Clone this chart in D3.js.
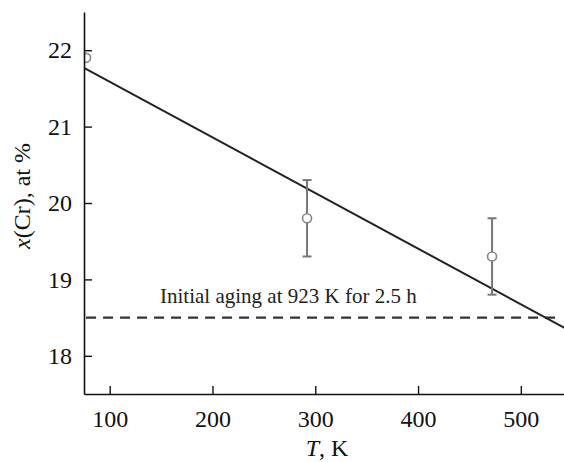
<!DOCTYPE html>
<html>
<head>
<meta charset="utf-8">
<script src="https://cdn.jsdelivr.net/npm/d3@7"></script>
<style>
  body { margin: 0; background: #fff; }
  svg { display: block; }
  svg text { font-family: "Liberation Serif", "DejaVu Serif", serif; }
</style>
</head>
<body>
<svg id="chart" width="564" height="462"></svg>
<script>
// measured points: temperature (K), Cr content (at %), error
var temps = [77, 292, 472];
var crValues = [21.9, 19.8, 19.3];
var crErrors = [0, 0.5, 0.5];

// linear fit x(Cr) = a + b*T
var fitA = 22.315;
var fitB = -0.00728;
var fitRange = [75, 550];

// initial state level
var initialLevel = 18.5;
var initialRange = [77, 535];
var initialLabel = "Initial aging at 923 K for 2.5 h";

var xTicks = [100, 200, 300, 400, 500];
var yTicks = [18, 19, 20, 21, 22];

var margin = {top: 12, right: 0, bottom: 68, left: 84};
var width = 564 - margin.left - margin.right,
	height = 462 - margin.top - margin.bottom;

var svg = d3.select("#chart");
var g = svg.append("g")
	.attr("transform", "translate(" + margin.left + "," + margin.top + ")");

var xscale = d3.scaleLinear().domain([75, 542]).range([0, width]);
var yscale = d3.scaleLinear().domain([17.5, 22.5]).range([height, 0]);

svg.append("defs").append("clipPath").attr("id", "plotclip")
	.append("rect").attr("x", 0).attr("y", 0).attr("width", width).attr("height", height);

var plot = g.append("g").attr("clip-path", "url(#plotclip)");

// dashed initial level
plot.append("line")
	.attr("x1", xscale(initialRange[0]))
	.attr("x2", xscale(initialRange[1]))
	.attr("y1", yscale(initialLevel))
	.attr("y2", yscale(initialLevel))
	.attr("stroke", "#333")
	.attr("stroke-width", 2.2)
	.attr("stroke-dasharray", "10,7");

g.append("text")
	.attr("x", xscale(149))
	.attr("y", yscale(initialLevel) - 15)
	.attr("font-size", 21)
	.attr("fill", "#222")
	.text(initialLabel);

// fit line
plot.append("line")
	.attr("x1", xscale(fitRange[0]))
	.attr("x2", xscale(fitRange[1]))
	.attr("y1", yscale(fitA + fitB * fitRange[0]))
	.attr("y2", yscale(fitA + fitB * fitRange[1]))
	.attr("stroke", "#222")
	.attr("stroke-width", 2);

// error bars
var points = temps.map(function(t, i) {
	return {t: t, v: crValues[i], e: crErrors[i]};
});

var bars = plot.selectAll(".errbar")
	.data(points.filter(function(p) { return p.e > 0; }))
	.enter().append("g").classed("errbar", true)
	.attr("stroke", "#777")
	.attr("stroke-width", 2);

bars.append("line")
	.attr("x1", function(p) { return xscale(p.t); })
	.attr("x2", function(p) { return xscale(p.t); })
	.attr("y1", function(p) { return yscale(p.v + p.e); })
	.attr("y2", function(p) { return yscale(p.v - p.e); });

[1, -1].forEach(function(sign) {
	bars.append("line")
		.attr("x1", function(p) { return xscale(p.t) - 4.5; })
		.attr("x2", function(p) { return xscale(p.t) + 4.5; })
		.attr("y1", function(p) { return yscale(p.v + sign * p.e); })
		.attr("y2", function(p) { return yscale(p.v + sign * p.e); });
});

plot.selectAll(".pt")
	.data(points)
	.enter().append("circle").classed("pt", true)
	.attr("cx", function(p) { return xscale(p.t); })
	.attr("cy", function(p) { return yscale(p.v); })
	.attr("r", 4.5)
	.attr("fill", "#fff")
	.attr("stroke", "#888")
	.attr("stroke-width", 1.6);

// axes (inward ticks)
var xAxis = g.append("g")
	.attr("transform", "translate(0," + height + ")")
	.call(d3.axisBottom(xscale).tickValues(xTicks).tickFormat(d3.format("d"))
		.tickSize(-8).tickPadding(16).tickSizeOuter(0));
var yAxis = g.append("g")
	.call(d3.axisLeft(yscale).tickValues(yTicks).tickFormat(d3.format("d"))
		.tickSize(-8).tickPadding(12).tickSizeOuter(0));

[xAxis, yAxis].forEach(function(ax) {
	ax.attr("font-family", null).attr("font-size", null);
	ax.select(".domain").attr("stroke", "#111").attr("stroke-width", 1.6);
	ax.selectAll(".tick line").attr("stroke", "#111").attr("stroke-width", 1.4);
	ax.selectAll(".tick text")
		.attr("fill", "#111")
		.style("font-size", "24px");
});

// axis titles
var xTitle = svg.append("text")
	.attr("x", margin.left + width / 2 + 3)
	.attr("y", 456)
	.attr("text-anchor", "middle")
	.style("font-size", "24px")
	.attr("fill", "#111");
xTitle.append("tspan").attr("font-style", "italic").text("T");
xTitle.append("tspan").text(", K");

var yTitle = svg.append("text")
	.attr("transform", "translate(30,196) rotate(-90)")
	.attr("text-anchor", "middle")
	.style("font-size", "24px")
	.attr("fill", "#111");
yTitle.append("tspan").attr("font-style", "italic").text("x");
yTitle.append("tspan").text("(Cr), at %");
</script>
</body>
</html>
